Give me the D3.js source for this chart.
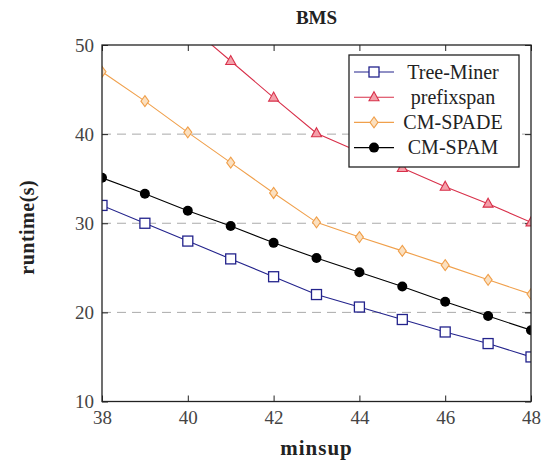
<!DOCTYPE html>
<html lang="en">
<head>
    <meta charset="UTF-8">
    <script src="https://d3js.org/d3.v7.min.js"></script>
    <title>BMS</title>
    <style>
        body { margin: 0; background: #fff; }
        svg { display: block; }
        svg text { font-family: 'Liberation Serif', serif; }
    </style>
</head>
<body>
    <svg width="544" height="460"></svg>
    <script>
        // values
        const minsup = [38, 39, 40, 41, 42, 43, 44, 45, 46, 47, 48];
        const treeMiner = [32, 30, 28, 26, 24, 22, 20.6, 19.2, 17.8, 16.5, 15];
        const prefixspanX = [40, 41, 42, 43, 44, 45, 46, 47, 48];
        const prefixspan = [52.3, 48.2, 44.1, 40.1, 38, 36.2, 34.1, 32.2, 30.1];
        const cmSpade = [47, 43.7, 40.2, 36.8, 33.4, 30.1, 28.45, 26.9, 25.3, 23.65, 22.05];
        const cmSpam = [35.1, 33.3, 31.4, 29.7, 27.8, 26.1, 24.5, 22.9, 21.2, 19.6, 18];
        const xTicks = [38, 40, 42, 44, 46, 48];
        const yTicks = [10, 20, 30, 40, 50];

        const margin = { top: 45, right: 13, bottom: 58.5, left: 102 };
        const width = 544, height = 460;

        const x = d3.scaleLinear().domain([38, 48]).range([margin.left, width - margin.right]);
        const y = d3.scaleLinear().domain([10, 50]).range([height - margin.bottom, margin.top]);

        const svg = d3.select('svg');

        svg.append('defs').append('clipPath').attr('id', 'plot')
            .append('rect')
            .attr('x', x(38)).attr('y', y(50))
            .attr('width', x(48) - x(38)).attr('height', y(10) - y(50));

        // dashed grid
        svg.append('g').selectAll('line')
            .data(yTicks.filter(d => d > 10 && d < 50))
            .enter().append('line')
            .attr('x1', x(38)).attr('x2', x(48))
            .attr('y1', d => y(d)).attr('y2', d => y(d))
            .attr('stroke', '#aaa').attr('stroke-width', 1)
            .attr('stroke-dasharray', '9,6');

        // axes (ticks pointing inward, on both sides)
        const tickStyle = g => {
            g.attr('font-family', null);
            g.select('.domain').remove();
            g.selectAll('.tick line').attr('stroke', '#222');
            g.selectAll('.tick text').attr('fill', '#444').attr('font-size', 19);
        };
        svg.append('g').attr('transform', `translate(0,${y(10)})`)
            .call(d3.axisBottom(x).tickValues(xTicks).tickSize(-6).tickPadding(6).tickFormat(d3.format('d')))
            .call(tickStyle)
            .call(g => g.selectAll('.tick text').attr('dy', '0.85em'));
        svg.append('g').attr('transform', `translate(0,${y(50)})`)
            .call(d3.axisTop(x).tickValues(xTicks).tickSize(-6).tickFormat(''))
            .call(tickStyle);
        svg.append('g').attr('transform', `translate(${x(38)},0)`)
            .call(d3.axisLeft(y).tickValues(yTicks).tickSize(-6).tickPadding(8).tickFormat(d3.format('d')))
            .call(tickStyle);
        svg.append('g').attr('transform', `translate(${x(48)},0)`)
            .call(d3.axisRight(y).tickValues(yTicks).tickSize(-6).tickFormat(''))
            .call(tickStyle);

        // series
        const series = [
            { name: 'Tree-Miner', xs: minsup, ys: treeMiner, color: '#23238c', marker: 'square' },
            { name: 'prefixspan', xs: prefixspanX, ys: prefixspan, color: '#d8304a', marker: 'triangle' },
            { name: 'CM-SPADE', xs: minsup, ys: cmSpade, color: '#f0a04c', marker: 'diamond' },
            { name: 'CM-SPAM', xs: minsup, ys: cmSpam, color: '#000', marker: 'circle' }
        ];

        const drawMarker = (g, s) => {
            if (s.marker === 'square') {
                g.append('rect').attr('x', -5).attr('y', -5).attr('width', 10).attr('height', 10)
                    .attr('fill', '#fff').attr('stroke', s.color).attr('stroke-width', 1.3);
            } else if (s.marker === 'triangle') {
                g.append('path').attr('d', 'M0,-5.5L5,3.5L-5,3.5Z')
                    .attr('fill', '#f4a0aa').attr('stroke', s.color).attr('stroke-width', 1.1);
            } else if (s.marker === 'diamond') {
                g.append('path').attr('d', 'M0,-5.5L4,0L0,5.5L-4,0Z')
                    .attr('fill', '#fbe0c0').attr('stroke', s.color).attr('stroke-width', 1.1);
            } else {
                g.append('circle').attr('r', 5).attr('fill', '#000');
            }
        };

        const line = d3.line().x(d => x(d[0])).y(d => y(d[1]));
        const plot = svg.append('g').attr('clip-path', 'url(#plot)');

        series.forEach(s => {
            const pts = s.xs.map((v, i) => [v, s.ys[i]]);
            plot.append('path').datum(pts)
                .attr('d', line).attr('fill', 'none')
                .attr('stroke', s.color).attr('stroke-width', 1.1);
            plot.selectAll(null).data(pts).enter().append('g')
                .attr('transform', d => `translate(${x(d[0])},${y(d[1])})`)
                .each(function () { drawMarker(d3.select(this), s); });
        });

        // frame
        svg.append('rect')
            .attr('x', x(38)).attr('y', y(50))
            .attr('width', x(48) - x(38)).attr('height', y(10) - y(50))
            .attr('fill', 'none').attr('stroke', '#222').attr('stroke-width', 1.3);

        // legend
        const legend = svg.append('g').attr('transform', 'translate(349,55)');
        legend.append('rect').attr('width', 170).attr('height', 112)
            .attr('fill', '#fff').attr('stroke', '#222').attr('stroke-width', 1.3);
        series.forEach((s, i) => {
            const row = legend.append('g').attr('transform', `translate(0,${17 + i * 25.2})`);
            row.append('line').attr('x1', 5).attr('x2', 45)
                .attr('stroke', s.color).attr('stroke-width', 1.1);
            drawMarker(row.append('g').attr('transform', 'translate(25,0)'), s);
            row.append('text').attr('x', 104).attr('dy', '0.34em')
                .attr('text-anchor', 'middle').attr('font-size', 20).attr('fill', '#222')
                .text(s.name);
        });

        // labels
        svg.append('text').attr('x', (x(38) + x(48)) / 2).attr('y', 24)
            .attr('text-anchor', 'middle').attr('font-weight', 'bold').attr('font-size', 19)
            .attr('fill', '#222').text('BMS');
        svg.append('text').attr('x', (x(38) + x(48)) / 2).attr('y', 455)
            .attr('text-anchor', 'middle').attr('font-weight', 'bold').attr('font-size', 21)
            .attr('letter-spacing', 1).attr('fill', '#222').text('minsup');
        svg.append('text')
            .attr('transform', `translate(34,${(y(10) + y(50)) / 2 + 4}) rotate(-90)`)
            .attr('text-anchor', 'middle').attr('font-weight', 'bold').attr('font-size', 20)
            .attr('letter-spacing', 0.5).attr('fill', '#222').text('runtime(s)');
    </script>
</body>
</html>
